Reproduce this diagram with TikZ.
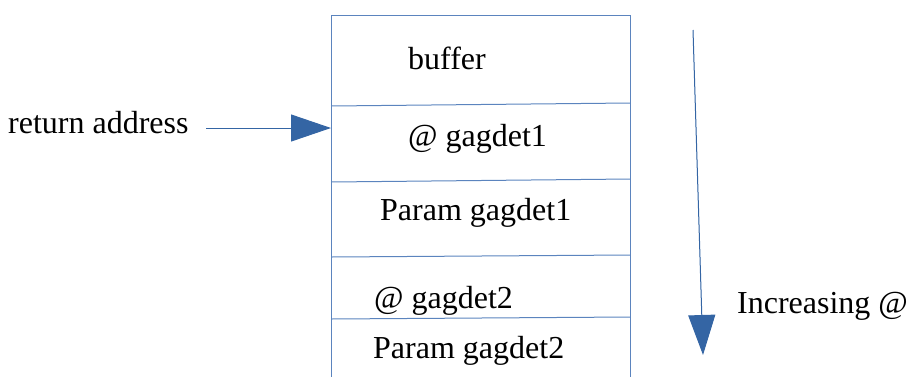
\documentclass[tikz,border=0pt]{standalone}
\usepackage{fontspec}
\setmainfont{Liberation Serif}
\usetikzlibrary{arrows.meta}
\definecolor{boxline}{HTML}{5B84BE}
\definecolor{arrowblue}{HTML}{3465A4}
\tikzset{
  lbl/.style={anchor=base west, inner sep=0pt, font=\fontsize{32}{37}\selectfont},
  boxedge/.style={draw=boxline, line width=1pt},
  bigarrow/.style={draw=arrowblue, line width=1pt, -{Triangle[length=40pt,width=27pt]}, fill=arrowblue},
}
\begin{document}
\begin{tikzpicture}[x=1pt,y=-1pt]
\useasboundingbox (0,0) rectangle (907,376);
% stack frame outline
\coordinate (tl) at (331,15);
\coordinate (tr) at (630,15);
\coordinate (bl) at (331,378);
\coordinate (br) at (630,378);
\draw[boxedge] (bl) -- (tl) -- (tr) -- (br);
\coordinate (s1l) at (331,106); \coordinate (s1r) at (630,103);
\coordinate (s2l) at (331,182); \coordinate (s2r) at (630,179);
\coordinate (s3l) at (331,257); \coordinate (s3r) at (630,255);
\coordinate (s4l) at (331,319); \coordinate (s4r) at (630,317);
\draw[boxedge] (s1l) -- (s1r);
\draw[boxedge] (s2l) -- (s2r);
\draw[boxedge] (s3l) -- (s3r);
\draw[boxedge] (s4l) -- (s4r);
% labels
\node[lbl] (buf) at (408,69) {buffer};
\node[lbl] (g1) at (408,146) {@ gagdet1};
\node[lbl] (p1) at (380,220) {Param gagdet1};
\node[lbl] (g2) at (374,308) {@ gagdet2};
\node[lbl] (p2) at (373,358) {Param gagdet2};
\node[lbl] (ret) at (8,133) {return address};
\node[lbl] (inc) at (737,313) {Increasing @};
% arrows
\coordinate (rs) at (206,128);
\coordinate (re) at (331,128);
\draw[bigarrow] (rs) -- (re);
\coordinate (ds) at (693,30);
\coordinate (de) at (703,355);
\draw[bigarrow] (ds) -- (de);
\end{tikzpicture}
\end{document}
